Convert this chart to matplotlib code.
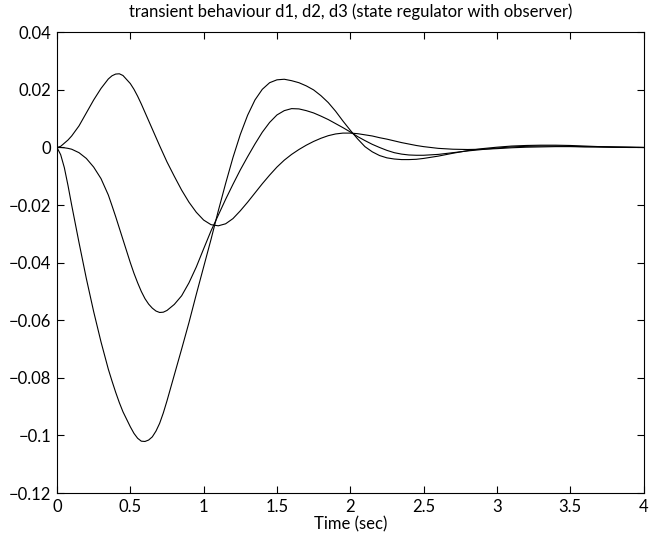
import numpy as np
import matplotlib
matplotlib.use("Agg")
import matplotlib.pyplot as plt

plt.rcParams['font.family'] = ['Lato', 'DejaVu Sans']

# time samples (sec)
t = [0.0, 0.025, 0.05, 0.075, 0.1, 0.15, 0.2, 0.25, 0.3, 0.35, 0.375, 0.4, 0.425, 0.45,
     0.5, 0.525, 0.55, 0.575, 0.6, 0.625, 0.65, 0.675, 0.7, 0.725, 0.75, 0.8, 0.85, 0.9, 0.95,
     1.0, 1.05, 1.1, 1.15, 1.2, 1.25, 1.3, 1.35, 1.4, 1.45,
     1.5, 1.55, 1.6, 1.65, 1.7, 1.75, 1.8, 1.85, 1.9, 1.95,
     2.0, 2.05, 2.1, 2.15, 2.2, 2.25, 2.3, 2.35, 2.4, 2.45,
     2.5, 2.6, 2.7, 2.8, 2.9, 3.0, 3.1, 3.2, 3.3, 3.4,
     3.5, 3.6, 3.7, 3.8, 3.9, 4.0]

# d1: positive first swing
d1 = [0.0, 0.0004, 0.0015, 0.0026, 0.0040, 0.0075, 0.0120, 0.0165, 0.0205, 0.0238, 0.0249, 0.0255, 0.0256, 0.0250,
      0.0222, 0.0202, 0.0178, 0.0151, 0.0122, 0.0093, 0.0064, 0.0035, 0.0006, -0.0022, -0.0050, -0.0100, -0.0148, -0.0190, -0.0225,
      -0.0252, -0.0268, -0.0272, -0.0265, -0.0247, -0.0220, -0.0190, -0.0158, -0.0126, -0.0096,
      -0.0068, -0.0044, -0.0024, -0.0007, 0.0008, 0.0021, 0.0032, 0.0041, 0.0047, 0.0050,
      0.0050, 0.0048, 0.0044, 0.0040, 0.0034, 0.0029, 0.0023, 0.0017, 0.0012, 0.0007,
      0.0003, -0.0003, -0.0006, -0.0007, -0.0006, -0.0004, -0.0001, 0.0001, 0.0002, 0.0003,
      0.0003, 0.0002, 0.0002, 0.0001, 0.0001, 0.0]

# d2: medium negative swing
d2 = [0.0, 0.0, -0.0001, -0.0003, -0.0006, -0.0018, -0.0038, -0.0068, -0.0108, -0.0165, -0.0202, -0.0240, -0.0280, -0.0320,
      -0.0400, -0.0437, -0.0470, -0.0500, -0.0525, -0.0544, -0.0558, -0.0568, -0.0573, -0.0572, -0.0566, -0.0545, -0.0515, -0.0470, -0.0415,
      -0.0352, -0.0290, -0.0235, -0.0180, -0.0128, -0.0078, -0.0032, 0.0012, 0.0053, 0.0087,
      0.0113, 0.0128, 0.0135, 0.0134, 0.0128, 0.0120, 0.0109, 0.0097, 0.0083, 0.0069,
      0.0054, 0.0038, 0.0024, 0.0011, 0.0000, -0.0010, -0.0018, -0.0023, -0.0026, -0.0027,
      -0.0027, -0.0024, -0.0018, -0.0012, -0.0007, -0.0002, 0.0002, 0.0004, 0.0005, 0.0005,
      0.0004, 0.0003, 0.0002, 0.0001, 0.0, 0.0]

# d3: largest negative swing
d3 = [0.0, -0.0025, -0.0070, -0.0132, -0.0200, -0.0330, -0.0455, -0.0570, -0.0675, -0.0770, -0.0811, -0.0850, -0.0886, -0.0918,
      -0.0970, -0.0993, -0.1010, -0.1020, -0.1021, -0.1016, -0.1005, -0.0985, -0.0958, -0.0922, -0.0880, -0.0790, -0.0700, -0.0608, -0.0510,
      -0.0415, -0.0320, -0.0220, -0.0125, -0.0035, 0.0045, 0.0112, 0.0165, 0.0202, 0.0225,
      0.0235, 0.0237, 0.0232, 0.0225, 0.0214, 0.0200, 0.0180, 0.0156, 0.0126, 0.0092,
      0.0060, 0.0030, 0.0003, -0.0015, -0.0028, -0.0036, -0.0040, -0.0042, -0.0042, -0.0041,
      -0.0038, -0.0030, -0.0020, -0.0011, -0.0004, 0.0001, 0.0005, 0.0007, 0.0008, 0.0008,
      0.0007, 0.0005, 0.0003, 0.0002, 0.0001, 0.0]

xticks = [0, 0.5, 1, 1.5, 2, 2.5, 3, 3.5, 4]
xlabels = ['0', '0.5', '1', '1.5', '2', '2.5', '3', '3.5', '4']
yticks = [0.04, 0.02, 0, -0.02, -0.04, -0.06, -0.08, -0.1, -0.12]
ylabels = ['0.04', '0.02', '0', '\u22120.02', '\u22120.04', '\u22120.06',
           '\u22120.08', '\u22120.1', '\u22120.12']

fig = plt.figure(figsize=(6.5, 5.45), dpi=100)
ax = fig.add_axes([0.0877, 0.0954, 0.9023, 0.8453])

for d in (d1, d2, d3):
    ax.plot(t, d, color='black', linewidth=0.8)

ax.set_xlim(0, 4)
ax.set_ylim(-0.12, 0.04)
ax.set_xticks(xticks)
ax.set_xticklabels(xlabels)
ax.set_yticks(yticks)
ax.set_yticklabels(ylabels)
ax.tick_params(direction='in', top=True, right=True, length=5, width=0.8,
               labelsize=12, pad=4)
for s in ax.spines.values():
    s.set_linewidth(0.8)

ax.set_xlabel('Time (sec)', fontsize=12, labelpad=1)
ax.set_title('transient behaviour d1, d2, d3 (state regulator with observer)',
             fontsize=12, pad=11)

fig.savefig('out.png', dpi=100)
